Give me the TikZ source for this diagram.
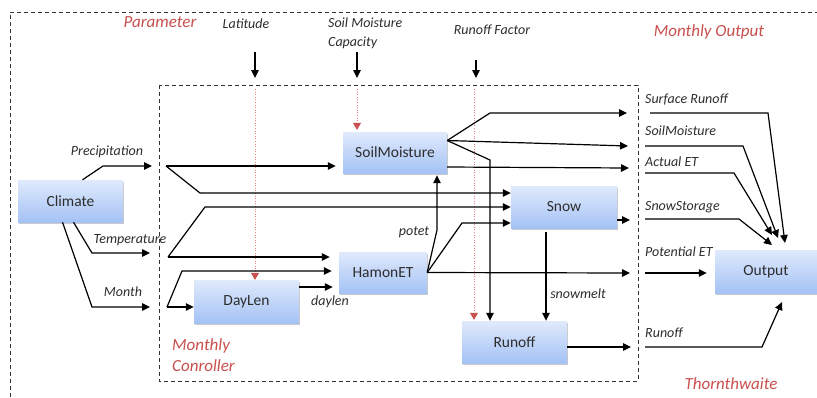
\documentclass[tikz,border=0pt]{standalone}
\usepackage{fontspec}
\setmainfont{Carlito}
\usetikzlibrary{arrows.meta,shadows,calc}
\definecolor{boxtop}{RGB}{224,234,252}
\definecolor{boxbot}{RGB}{164,194,245}
\definecolor{redlab}{RGB}{200,80,77}
\definecolor{reddot}{RGB}{230,130,130}
\definecolor{txt}{RGB}{45,45,45}
\tikzset{
  blk/.style={minimum width=#1, minimum height=42pt, inner sep=0pt,
    top color=boxtop, bottom color=boxbot, draw=none,
    drop shadow={shadow xshift=1.2pt,shadow yshift=-1.5pt,opacity=0.35,fill=black!60},
    text=txt, font=\fontsize{15.5}{17}\selectfont},
  lab/.style={text=txt, font=\fontsize{14}{19}\selectfont\itshape, inner sep=0pt},
  rlab/.style={text=redlab, font=\fontsize{17}{21}\selectfont\itshape, inner sep=0pt},
  arr/.style={line width=1.2pt, draw=black, -{Triangle[length=8pt,width=7.5pt]}},
  ln/.style={line width=1.2pt, draw=black},
  rarr/.style={line width=0.6pt, draw=reddot, dotted, -{Triangle[length=7pt,width=8pt,fill=redlab,color=redlab]}},
  frame/.style={line width=1pt, dash pattern=on 4pt off 3pt, draw=black!80}
}
\begin{document}
\begin{tikzpicture}[x=1pt,y=-1pt]
\useasboundingbox (0,0) rectangle (817,397);
% frames
\draw[frame] (10,397) -- (10,12) -- (817,12);
\draw[frame] (159,85) rectangle (638,381);
% boxes
\node[blk=105pt] (Climate) at (70.5,201) {Climate};
\node[blk=104pt, minimum height=41pt] (SoilMoisture) at (395,152.5) {SoilMoisture};
\node[blk=106pt] (Snow) at (564,207) {Snow};
\node[blk=88pt, minimum height=41pt] (HamonET) at (383,272.5) {HamonET};
\node[blk=105pt, minimum height=43pt] (DayLen) at (246.5,301.5) {DayLen};
\node[blk=105pt] (Runoff) at (514.5,342) {Runoff};
\node[blk=102pt, minimum height=43pt] (Output) at (766,271.5) {Output};
% red labels
\node[rlab] (tParam) at (160,22) {Parameter};
\node[rlab] (tMonOut) at (709,32) {Monthly Output};
\node[rlab] (tThorn) at (731,384) {Thornthwaite};
\node[rlab, align=left, anchor=west] (tCtrl) at (172,355.5) {Monthly\\Conroller};
% parameter labels
\node[lab] (tLat) at (246,24) {Latitude};
\node[lab, align=left, anchor=west] (tSMC) at (328,33.5) {Soil Moisture\\Capacity};
\node[lab] (tRF) at (492,30) {Runoff Factor};
% inner labels
\node[lab] (tPrec) at (107,152) {Precipitation};
\node[lab] (tTemp) at (130,240) {Temperature};
\node[lab] (tMonth) at (123,292) {Month};
\node[lab] (tDaylen) at (330,302) {daylen};
\node[lab] (tPotet) at (414,232) {potet};
\node[lab] (tMelt) at (578,294) {snowmelt};
% output labels
\node[lab, anchor=west] (oSR) at (645,99) {Surface Runoff};
\node[lab, anchor=west] (oSM) at (645,131) {SoilMoisture};
\node[lab, anchor=west] (oAET) at (645,162) {Actual ET};
\node[lab, anchor=west] (oSS) at (645,207) {SnowStorage};
\node[lab, anchor=west] (oPET) at (645,252) {Potential ET};
\node[lab, anchor=west] (oRO) at (645,333) {Runoff};
% coordinates
\coordinate (precMid) at (103,166);
\coordinate (precEnd) at (152,166);
\coordinate (precIn) at (166,166);
\coordinate (precB) at (200,193);
\coordinate (tempMid) at (92,253);
\coordinate (tempEnd) at (150,253);
\coordinate (tempIn) at (168,257);
\coordinate (tempB) at (205,207);
\coordinate (monMid) at (92,307);
\coordinate (monEnd) at (150,307);
\coordinate (monIn) at (167,307);
\coordinate (monB) at (182,271);
% parameter arrows
\coordinate (latA) at (255,52); \coordinate (latB) at (255,78); \coordinate (latC) at (255,89);
\coordinate (smcA) at (357,52); \coordinate (smcB) at (357,78); \coordinate (smcC) at (357,89);
\coordinate (rfA) at (476,60); \coordinate (rfB) at (476,78); \coordinate (rfC) at (474,89);
\draw[arr] (latA) -- (latB);
\draw[arr] (smcA) -- (smcB);
\draw[arr] (rfA) -- (rfB);
\draw[rarr] (latC) -- (DayLen.north -| latC);
\draw[rarr] (smcC) -- ([yshift=2pt]SoilMoisture.north -| smcC);
\draw[rarr] (rfC) -- ([yshift=1pt]Runoff.north -| rfC);
% climate outputs
\draw[arr] ([xshift=12pt]Climate.north) -- (precMid) -- (precEnd);
\draw[arr] ([xshift=3pt]Climate.south) -- (tempMid) -- (tempEnd);
\draw[arr] ([xshift=-8pt]Climate.south) -- (monMid) -- (monEnd);
% inner connections
\draw[arr] (precIn) -- ([xshift=-7pt]SoilMoisture.west |- precIn);
\draw[arr] (precIn) -- (precB) -- (Snow.west |- precB);
\draw[arr] (tempIn) -- ([xshift=-9pt]HamonET.west |- tempIn);
\draw[arr] (tempIn) -- (tempB) -- (Snow.west |- tempB);
\draw[arr] (monIn) -- (DayLen.west |- monIn);
\draw[arr] (monIn) -- (monB) -- ([xshift=-7pt]HamonET.west |- monB);
\coordinate (dlY) at (0,287);
\draw[arr] (DayLen.east |- dlY) -- ([xshift=-6pt]HamonET.west |- dlY);
% SoilMoisture outputs
\coordinate (smR) at ([yshift=12pt]SoilMoisture.east);
\coordinate (srA) at (490,113); \coordinate (srEnd) at (627,113);
\coordinate (smEnd) at (628,146);
\coordinate (roA) at (490,160);
\coordinate (aetS) at ([yshift=-14.5pt]SoilMoisture.east);
\coordinate (aetEnd) at (629,168);
\draw[arr] (smR) -- (srA) -- (srEnd);
\draw[arr] (smR) -- (smEnd);
\draw[arr] (smR) -- (roA) -- (Runoff.north -| roA);
\draw[arr] (aetS) -- (aetEnd);
% Snow outputs
\coordinate (ssY) at (0,220); \coordinate (ssEnd) at (630,220);
\draw[arr] (Snow.east |- ssY) -- (ssEnd);
\coordinate (meltX) at (546,0);
\draw[arr] ([yshift=-4pt]Snow.south -| meltX) -- (Runoff.north -| meltX);
% HamonET outputs
\coordinate (petEnd) at (630,273);
\coordinate (hsA) at (462,223);
\coordinate (hpA) at (437,230);
\draw[arr] (HamonET.east) -- (petEnd);
\draw[arr] (HamonET.east) -- (hsA) -- (Snow.west |- hsA);
\draw[arr] (HamonET.east) -- (hpA) -- ([yshift=-2pt]SoilMoisture.south -| hpA);
% Runoff output
\coordinate (roY) at (0,347); \coordinate (roEnd) at (631,347);
\draw[arr] (Runoff.east |- roY) -- (roEnd);
% outside lines to Output
\coordinate (o1a) at (650,113); \coordinate (o1b) at (768,113); \coordinate (o1c) at (785,243);
\coordinate (o2a) at (645,146); \coordinate (o2b) at (743,146); \coordinate (o2c) at (778,238);
\coordinate (o3a) at (645,173); \coordinate (o3b) at (734,173); \coordinate (o3c) at (772,235);
\coordinate (o4a) at (645,219); \coordinate (o4b) at (739,219); \coordinate (o4c) at (772,245);
\coordinate (o5a) at (645,273);
\coordinate (o6a) at (645,347); \coordinate (o6b) at (762,347); \coordinate (o6c) at (782,302);
\draw[arr] (o1a) -- (o1b) -- (o1c);
\draw[arr] (o2a) -- (o2b) -- (o2c);
\draw[arr] (o3a) -- (o3b) -- (o3c);
\draw[arr] (o4a) -- (o4b) -- (o4c);
\draw[arr] (o5a) -- ([xshift=-8pt]Output.west |- o5a);
\draw[arr] (o6a) -- (o6b) -- (o6c);
\end{tikzpicture}
\end{document}
